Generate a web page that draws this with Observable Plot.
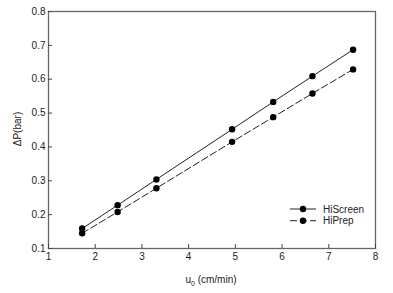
<!DOCTYPE html>
<html>
<head>
<meta charset="utf-8">
<script src="https://cdn.jsdelivr.net/npm/d3@7"></script>
<script src="https://cdn.jsdelivr.net/npm/@observablehq/plot@0.6"></script>
<style>
  html, body { margin: 0; padding: 0; background: #fff; }
  svg { font-family: "Liberation Sans", Arial, sans-serif; }
</style>
</head>
<body>
<div id="chart"></div>
<script>
const velocity = [1.72, 2.48, 3.31, 4.93, 5.81, 6.65, 7.52];
const hiScreen = [0.159, 0.228, 0.304, 0.452, 0.533, 0.609, 0.687];
const hiPrep = [0.145, 0.208, 0.278, 0.415, 0.488, 0.558, 0.629];
const seriesNames = ["HiScreen", "HiPrep"];
const xTicks = [1, 2, 3, 4, 5, 6, 7, 8];
const yTicks = [0.1, 0.2, 0.3, 0.4, 0.5, 0.6, 0.7, 0.8];

const data = [];
velocity.forEach((v, i) => {
  data.push({x: v, y: hiScreen[i], s: seriesNames[0]});
  data.push({x: v, y: hiPrep[i], s: seriesNames[1]});
});
const screenData = data.filter(d => d.s === seriesNames[0]);
const prepData = data.filter(d => d.s === seriesNames[1]);

const chart = Plot.plot({
  width: 393,
  height: 293,
  marginLeft: 48,
  marginTop: 11,
  marginRight: 18,
  marginBottom: 45,
  style: {fontFamily: "Liberation Sans, Arial, sans-serif", fontSize: "10px", color: "#222"},
  x: {domain: [1, 8], ticks: xTicks, tickFormat: d => String(d)},
  y: {domain: [0.1, 0.8], ticks: yTicks, tickFormat: d => d.toFixed(1)},
  marks: [
    Plot.frame({stroke: "#666", strokeWidth: 1.3}),
    Plot.axisX({ticks: xTicks, tickSize: -4, tickPadding: 8, stroke: "#444", label: null, tickFormat: d => String(d)}),
    Plot.axisY({ticks: yTicks, tickSize: -4, tickPadding: 7, stroke: "#444", label: null, tickFormat: d => d.toFixed(1)}),
    Plot.line(screenData, {x: "x", y: "y", stroke: "#222", strokeWidth: 1}),
    Plot.line(prepData, {x: "x", y: "y", stroke: "#222", strokeWidth: 1, strokeDasharray: "7,3"}),
    Plot.dot(data, {x: "x", y: "y", r: 3.2, fill: "#000", stroke: "none"})
  ]
});
document.getElementById("chart").appendChild(chart);

const svg = d3.select(chart);
// axis titles
const xt = svg.append("text")
  .attr("x", 211).attr("y", 283)
  .attr("text-anchor", "middle")
  .attr("font-size", 10).attr("fill", "#222");
xt.append("tspan").text("u");
xt.append("tspan").attr("font-size", 7).attr("dy", 3).text("0");
xt.append("tspan").attr("dy", -3).text(" (cm/min)");

svg.append("text")
  .attr("transform", "translate(21,129) rotate(-90)")
  .attr("text-anchor", "middle")
  .attr("font-size", 10).attr("fill", "#222")
  .text("ΔP(bar)");

// legend
const legend = svg.append("g");
seriesNames.forEach((name, i) => {
  const y = 209 + i * 11.7;
  legend.append("line")
    .attr("x1", 290).attr("x2", 316).attr("y1", y).attr("y2", y)
    .attr("stroke", "#222").attr("stroke-width", 1)
    .attr("stroke-dasharray", i === 1 ? "7,3" : null);
  legend.append("circle").attr("cx", 303).attr("cy", y).attr("r", 3.2).attr("fill", "#000");
  legend.append("text").attr("x", 323).attr("y", y).attr("dy", "0.35em")
    .attr("text-anchor", "start")
    .attr("font-size", 10).attr("fill", "#222").text(name);
});
</script>
</body>
</html>
